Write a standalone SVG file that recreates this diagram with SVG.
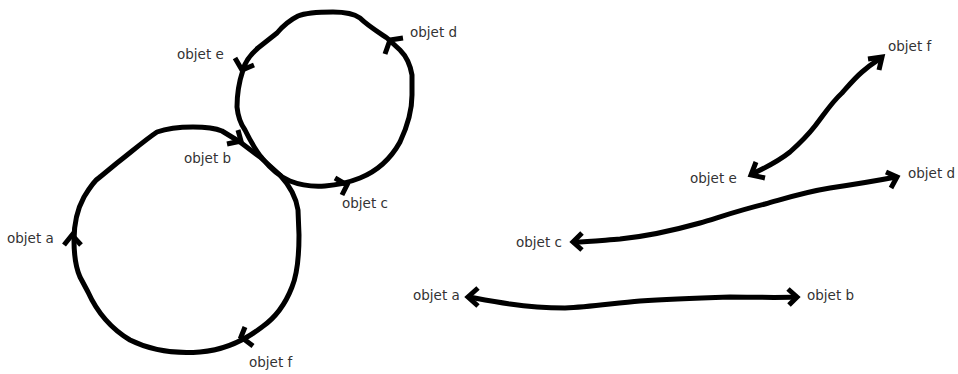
<svg xmlns="http://www.w3.org/2000/svg" width="958" height="374" viewBox="0 0 958 374">
<style>
.lbl{font-family:"DejaVu Sans","Liberation Sans",sans-serif;font-size:13.5px;fill:#333}
.ln{fill:none;stroke:#000;stroke-width:5;stroke-linecap:round;stroke-linejoin:round}
.hd{fill:none;stroke:#000;stroke-width:5;stroke-linecap:butt;stroke-linejoin:miter}
</style>
<rect width="958" height="374" fill="#fff"/>
<g id="nodes-left">
<g id="L-a"><text class="lbl" x="7" y="243">objet a</text></g>
<g id="L-b"><text class="lbl" x="184" y="163">objet b</text></g>
<g id="L-c"><text class="lbl" x="342" y="208">objet c</text></g>
<g id="L-d"><text class="lbl" x="410" y="37">objet d</text></g>
<g id="L-e"><text class="lbl" x="177" y="59">objet e</text></g>
<g id="L-f"><text class="lbl" x="249" y="367">objet f</text></g>
</g>
<g id="nodes-right">
<g id="R-a"><text class="lbl" x="413" y="300">objet a</text></g>
<g id="R-b"><text class="lbl" x="807" y="300">objet b</text></g>
<g id="R-c"><text class="lbl" x="516" y="247">objet c</text></g>
<g id="R-d"><text class="lbl" x="908" y="178">objet d</text></g>
<g id="R-e"><text class="lbl" x="690" y="183">objet e</text></g>
<g id="R-f"><text class="lbl" x="888" y="51">objet f</text></g>
</g>
<g id="connectors">
<path class="ln" d="M193,127 C208,127 215,128 222,131 L240,142 L260,157 L280,175 C290,186 296,196 298,210 L299,235 C299,260 297,275 292,287 C285,305 275,318 262,327 C245,340 225,350 200,352 C175,354 150,350 130,340 C110,328 97,312 88,292 L80,277 C76,268 74,255 74,240 C74,220 78,208 84,197 C90,187 95,180 100,177 L117,163 C130,153 145,140 157,132 C168,128 180,127 193,127 Z"/>
<path class="ln" d="M333,12 C320,12 305,13 298,16 C290,20 282,27 277,33 L258,48 C250,55 245,62 243,70 C238,85 237,95 237,107 C238,117 240,123 245,130 C250,140 255,150 262,158 C270,168 280,177 290,181 C300,185 312,187 325,186 C338,185 350,182 360,178 C375,172 390,160 400,142 C408,125 412,110 412,95 L412,75 C410,63 405,55 400,50 L387,38 C375,30 367,25 360,18 C353,13 345,12 333,12 Z"/>
<path class="hd" d="M64,245 L72,235 L81,245"/>
<path class="hd" d="M235,58 L242,70 L254,65"/>
<path class="hd" d="M385,54 L390,40 L403,38"/>
<path class="hd" d="M238,130 L241,141 L227,144"/>
<path class="hd" d="M335,178 L347,185 L342,195"/>
<path class="hd" d="M245,327 L241,337 L253,346"/>
<path class="ln" d="M752,174 C765,168 780,160 790,152 C800,143 808,135 815,126 C825,113 832,102 842,93 C850,84 855,78 862,72 C870,65 875,62 881,58"/>
<path class="hd" d="M868,59 L882,57 L879,70"/>
<path class="hd" d="M756,162 L751,175 L765,178"/>
<path class="ln" d="M574,242 C590,242 605,240 620,239 C650,236 675,230 700,223 C720,217 740,210 765,204 C790,197 805,192 830,188 C850,185 870,182 896,177"/>
<path class="hd" d="M582,233 L573,242 L582,250"/>
<path class="hd" d="M886,172 L897,177 L891,188"/>
<path class="ln" d="M469,297 C485,300 495,302 510,304 C530,307 545,308 565,308 C590,307 615,303 640,301 C670,299 700,298 730,297 C755,297 775,298 796,297"/>
<path class="hd" d="M478,288 L468,297 L478,306"/>
<path class="hd" d="M788,289 L797,297 L789,305"/>
</g>
</svg>
